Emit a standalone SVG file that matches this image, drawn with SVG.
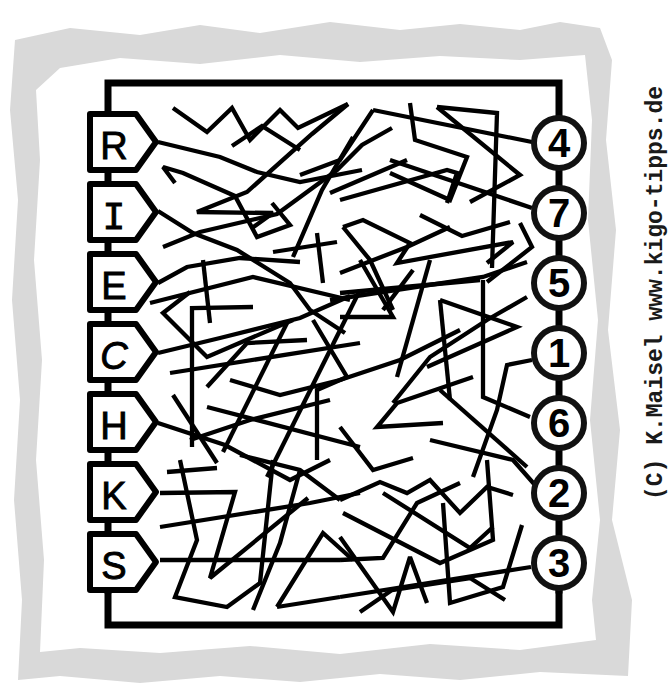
<svg xmlns="http://www.w3.org/2000/svg" width="668" height="691" viewBox="0 0 668 691">
<style>
.paper{fill:#d9d9d9}
.sheet{fill:#ffffff}
.frame{fill:none;stroke:#000;stroke-width:7;stroke-linecap:square}
.maze polyline{fill:none;stroke:#000;stroke-width:4.3;stroke-linejoin:miter;stroke-miterlimit:3}
.box{fill:#fff;stroke:#000;stroke-width:6;stroke-linejoin:round}
.ring{fill:#fff;stroke:#111;stroke-width:6}
.let{font-family:"Liberation Sans",Arial,sans-serif;font-size:38px;fill:#000;stroke:#000;stroke-width:0.9;text-anchor:middle}
.num{font-family:"Liberation Sans",Arial,sans-serif;font-size:40px;font-weight:bold;fill:#000;text-anchor:middle}
.credit{font-family:"Liberation Mono","Courier New",monospace;font-size:23px;font-weight:bold;fill:#1a1a1a}
</style>
<rect width="668" height="691" fill="#fff"/>
<path class="paper" d="M15,40 L70,28 L140,35 L200,25 L260,33 L330,22 L400,30 L460,24 L520,30 L560,22 L600,28 L612,60 L606,140 L616,230 L608,330 L620,430 L612,520 L632,600 L628,676 L540,672 L460,680 L380,674 L300,682 L220,676 L140,683 L60,676 L18,680 L22,600 L14,500 L20,400 L12,300 L18,200 L10,110 Z"/>
<path class="sheet" d="M60,68 L120,58 L200,64 L280,55 L360,62 L440,56 L520,60 L585,55 L592,120 L588,220 L598,320 L590,420 L600,520 L592,600 L596,640 L520,650 L430,644 L340,654 L250,646 L160,653 L80,648 L40,652 L44,560 L36,460 L42,360 L34,260 L40,160 L36,90 Z"/>
<g id="frame">
<polyline class="frame" points="108,120 108,83 559,83 559,120"/>
<polyline class="frame" points="108,590 108,625 559,625 559,590"/>
<line class="frame" x1="108" y1="120" x2="108" y2="590"/>
<line class="frame" x1="559" y1="120" x2="559" y2="590"/>
</g>
<g id="connectors" class="maze">
<polyline points="173,108 207,132 232,108 250,140 280,110 298,128 348,104"/>
<polyline points="348,104 312,134 247,192 197,212 273,213 252,228"/>
<polyline points="158,142 220,157 257,172 300,182 362,170"/>
<polyline points="175,183 163,167 183,173 235,196 257,237 290,225 272,203"/>
<polyline points="158,211 193,233 237,250 290,283 310,310 345,333"/>
<polyline points="163,247 200,232 277,214 337,170 362,145 392,128"/>
<polyline points="353,137 322,190 293,257"/>
<polyline points="273,252 337,242"/>
<polyline points="317,233 323,283"/>
<polyline points="373,110 340,160 300,175"/>
<polyline points="373,110 532,142"/>
<polyline points="410,103 415,140 467,157 450,200 390,173"/>
<polyline points="437,107 497,113 492,268"/>
<polyline points="437,107 520,175 470,202"/>
<polyline points="340,200 447,170 457,173 447,203"/>
<polyline points="390,160 532,208"/>
<polyline points="330,193 407,160"/>
<polyline points="343,227 370,260 393,310"/>
<polyline points="343,227 363,220 410,243 397,263 513,242 487,263"/>
<polyline points="520,223 532,247 487,282"/>
<polyline points="330,300 483,277 527,262"/>
<polyline points="340,273 407,247 450,227"/>
<polyline points="413,270 383,310"/>
<polyline points="420,215 462,236 510,222"/>
<polyline points="232,146 262,126 300,150"/>
<polyline points="158,283 187,267 240,258 300,262"/>
<polyline points="203,260 210,323"/>
<polyline points="190,292 163,313 193,343 207,357 293,320"/>
<polyline points="192,447 192,308 253,307"/>
<polyline points="170,373 360,343"/>
<polyline points="158,353 220,338 300,318 350,296"/>
<polyline points="207,387 247,343 307,340"/>
<polyline points="173,395 217,463"/>
<polyline points="207,407 360,447"/>
<polyline points="223,452 287,323"/>
<polyline points="313,320 347,377 317,390 317,460"/>
<polyline points="267,477 360,290"/>
<polyline points="158,423 225,445 290,480 330,460"/>
<polyline points="150,303 253,277 350,300"/>
<polyline points="527,297 487,320 430,357 393,403"/>
<polyline points="340,293 480,280"/>
<polyline points="440,300 517,327 427,367"/>
<polyline points="440,300 450,400"/>
<polyline points="483,280 483,397 530,417"/>
<polyline points="532,360 507,365 497,410 473,477"/>
<polyline points="473,377 397,403 377,427 443,423"/>
<polyline points="440,390 527,467"/>
<polyline points="360,260 393,317 340,317"/>
<polyline points="430,260 397,377"/>
<polyline points="340,380 400,360 460,330"/>
<polyline points="340,427 373,470 413,458"/>
<polyline points="535,485 513,460 430,440"/>
<polyline points="340,500 380,482 407,493 430,480 460,513 487,487 513,495"/>
<polyline points="383,493 470,548 493,527"/>
<polyline points="340,560 383,558 417,503 460,483"/>
<polyline points="343,513 440,563 493,540 487,460"/>
<polyline points="522,525 503,587 450,603 443,503"/>
<polyline points="531,567 340,597"/>
<polyline points="340,537 393,612 410,557 427,603"/>
<polyline points="360,612 392,590 470,578 505,600"/>
<polyline points="160,493 235,492 210,578 308,498"/>
<polyline points="167,472 217,468"/>
<polyline points="160,527 310,503 360,493"/>
<polyline points="160,560 340,560"/>
<polyline points="180,460 197,540 175,597 227,607 260,583 273,460"/>
<polyline points="253,610 280,543 300,470"/>
<polyline points="277,607 323,533 353,560"/>
<polyline points="277,607 340,597"/>
<polyline points="240,455 300,470 340,500"/>
<polyline points="190,440 250,420 330,400"/>
<polyline points="230,380 280,395 340,380"/>
</g>
<g id="node-R"><polygon class="box" points="90,114 136,114 156,142 136,170 90,170"/><text class="let" x="114" y="159">R</text></g>
<g id="node-I"><polygon class="box" points="90,184 136,184 156,212 136,240 90,240"/><text class="let" x="114" y="229" style="font-family:'Liberation Mono',monospace">I</text></g>
<g id="node-E"><polygon class="box" points="90,254 136,254 156,282 136,310 90,310"/><text class="let" x="114" y="299">E</text></g>
<g id="node-C"><polygon class="box" points="90,324 136,324 156,352 136,380 90,380"/><text class="let" x="114" y="369" font-style="italic">C</text></g>
<g id="node-H"><polygon class="box" points="90,394 136,394 156,422 136,450 90,450"/><text class="let" x="114" y="439">H</text></g>
<g id="node-K"><polygon class="box" points="90,464 136,464 156,492 136,520 90,520"/><text class="let" x="114" y="509">K</text></g>
<g id="node-S"><polygon class="box" points="90,534 136,534 156,562 136,590 90,590"/><text class="let" x="114" y="579">S</text></g>
<g id="node-4"><circle class="ring" cx="559" cy="143" r="25"/><text class="num" x="559" y="157">4</text></g>
<g id="node-7"><circle class="ring" cx="559" cy="213" r="25"/><text class="num" x="559" y="227">7</text></g>
<g id="node-5"><circle class="ring" cx="559" cy="283" r="25"/><text class="num" x="559" y="297">5</text></g>
<g id="node-1"><circle class="ring" cx="559" cy="353" r="25"/><text class="num" x="559" y="367">1</text></g>
<g id="node-6"><circle class="ring" cx="559" cy="423" r="25"/><text class="num" x="559" y="437">6</text></g>
<g id="node-2"><circle class="ring" cx="559" cy="493" r="25"/><text class="num" x="559" y="507">2</text></g>
<g id="node-3"><circle class="ring" cx="559" cy="563" r="25"/><text class="num" x="559" y="577">3</text></g>
<text class="credit" transform="translate(662,500) rotate(-90)">(C) K.Maisel   www.kigo-tipps.de</text>
</svg>
